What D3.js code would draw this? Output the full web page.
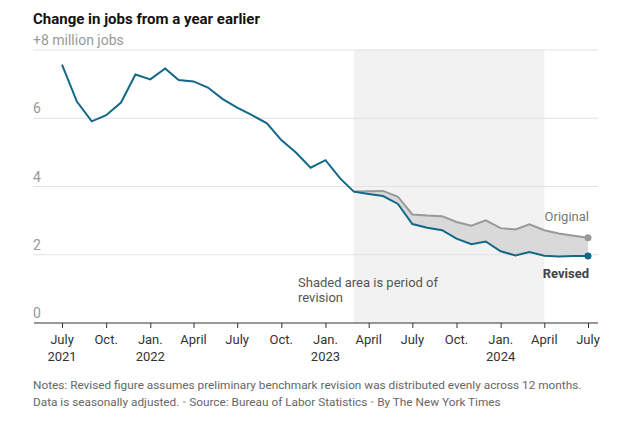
<!DOCTYPE html>
<html><head><meta charset="utf-8">
<script src="https://cdn.jsdelivr.net/npm/d3@7"></script>
<style>
body{margin:0;background:#fff;}
svg{display:block;}
text{font-family:"Roboto",sans-serif;}
</style></head><body>
<svg id="c" width="624" height="425"></svg>
<script>
// Data: year-over-year change in jobs, millions, monthly July 2021 - July 2024
const months = d3.range(37).map(i => new Date(2021, 6 + i, 1));
const original = [7.57,6.49,5.91,6.09,6.46,7.28,7.14,7.46,7.12,7.08,6.90,6.56,6.31,6.09,5.85,5.36,4.99,4.55,4.77,4.23,3.85,
  3.86,3.87,3.70,3.18,3.15,3.13,2.96,2.85,3.01,2.78,2.74,2.89,2.72,2.62,2.56,2.50];
const revised = [7.57,6.49,5.91,6.09,6.46,7.28,7.14,7.46,7.12,7.08,6.90,6.56,6.31,6.09,5.85,5.36,4.99,4.55,4.77,4.23,3.85,
  3.78,3.72,3.49,2.90,2.79,2.72,2.47,2.31,2.39,2.10,1.98,2.08,1.97,1.95,1.96,1.96];
const yTicks = [0,2,4,6,8];
const xTickDates = d3.range(13).map(i => new Date(2021, 6 + 3*i, 1));
const monthNames = {0:"Jan.",3:"April",6:"July",9:"Oct."};
const shadeStart = new Date(2023, 2, 1), shadeEnd = new Date(2024, 3, 1);

const svg = d3.select("#c");
const x = d3.scaleTime().domain([months[0], months[36]]).range([62, 588]);
const y = d3.scaleLinear().domain([0, 8]).range([323, 50]);
const left = 33, right = 598;

// shading
svg.append("rect").attr("x", x(shadeStart)).attr("y", y(8))
  .attr("width", x(shadeEnd) - x(shadeStart)).attr("height", y(0) - y(8))
  .attr("fill", "#f2f2f2");

// grid
svg.append("g").selectAll("line").data(yTicks.filter(d => d > 0)).join("line")
  .attr("x1", left).attr("x2", right).attr("y1", d => y(d)).attr("y2", d => y(d))
  .attr("stroke", "#e2e2e2").attr("stroke-width", 1);

// y labels
svg.append("g").selectAll("text").data(yTicks).join("text")
  .attr("x", left).attr("y", d => y(d) - 5)
  .attr("font-size", 14).attr("fill", "#999")
  .text(d => d === 8 ? "+8 million jobs" : d);

// x axis
const xAxis = d3.axisBottom(x).tickValues(xTickDates).tickSize(5).tickFormat("");
const gx = svg.append("g").attr("transform", `translate(0,${y(0)})`).call(xAxis);
gx.select(".domain").remove();
gx.selectAll(".tick line").attr("stroke", "#333");
svg.append("line").attr("x1", left + 1).attr("x2", right).attr("y1", y(0)).attr("y2", y(0))
  .attr("stroke", "#333").attr("stroke-width", 1);
const lbl = svg.append("g").selectAll("text").data(xTickDates).join("text")
  .attr("text-anchor", "middle").attr("font-size", 13).attr("fill", "#333");
lbl.append("tspan").attr("x", d => x(d)).attr("y", 344).text(d => monthNames[d.getMonth()]);
lbl.append("tspan").attr("x", d => x(d)).attr("y", 361)
  .text(d => (d.getMonth() === 0 || (d.getMonth() === 6 && d.getFullYear() === 2021)) ? d.getFullYear() : "");

// band between original and revised
const idx = d3.range(20, 37);
svg.append("path").datum(idx)
  .attr("d", d3.area().x(i => x(months[i])).y0(i => y(revised[i])).y1(i => y(original[i])))
  .attr("fill", "#d9d9d9");

svg.append("path").datum(idx)
  .attr("d", d3.line().x(i => x(months[i])).y(i => y(original[i])))
  .attr("fill", "none").attr("stroke", "#999").attr("stroke-width", 2);
svg.append("path").datum(d3.range(37))
  .attr("d", d3.line().x(i => x(months[i])).y(i => y(revised[i])))
  .attr("fill", "none").attr("stroke", "#13688a").attr("stroke-width", 2);

svg.append("circle").attr("cx", x(months[36])).attr("cy", y(original[36])).attr("r", 3.5).attr("fill", "#999");
svg.append("circle").attr("cx", x(months[36])).attr("cy", y(revised[36])).attr("r", 3.5).attr("fill", "#13688a");

svg.append("text").attr("x", 589).attr("y", 221).attr("text-anchor", "end")
  .attr("font-size", 13).attr("fill", "#777").text("Original");
svg.append("text").attr("x", 589).attr("y", 278).attr("text-anchor", "end")
  .attr("font-size", 13).attr("font-weight", "bold").attr("fill", "#444").text("Revised");

const note = svg.append("text").attr("font-size", 13).attr("fill", "#555");
note.append("tspan").attr("x", 298).attr("y", 287).text("Shaded area is period of");
note.append("tspan").attr("x", 298).attr("y", 302).text("revision");

// title
svg.append("text").attr("x", 33).attr("y", 24).attr("font-size", 15).attr("font-weight", "bold")
  .attr("fill", "#121212").text("Change in jobs from a year earlier");

const foot = svg.append("text").attr("font-size", 11.8).attr("fill", "#666");
foot.append("tspan").attr("x", 33).attr("y", 389)
  .text("Notes: Revised figure assumes preliminary benchmark revision was distributed evenly across 12 months.");
const f2 = foot.append("tspan").attr("x", 33).attr("y", 406);
f2.text("Data is seasonally adjusted. ");
foot.append("tspan").attr("fill", "#bbb").text("  •  ");
foot.append("tspan").attr("fill", "#666").text("Source: Bureau of Labor Statistics");
foot.append("tspan").attr("fill", "#bbb").text("  •  ");
foot.append("tspan").attr("fill", "#666").text("By The New York Times");
</script>
</body></html>
